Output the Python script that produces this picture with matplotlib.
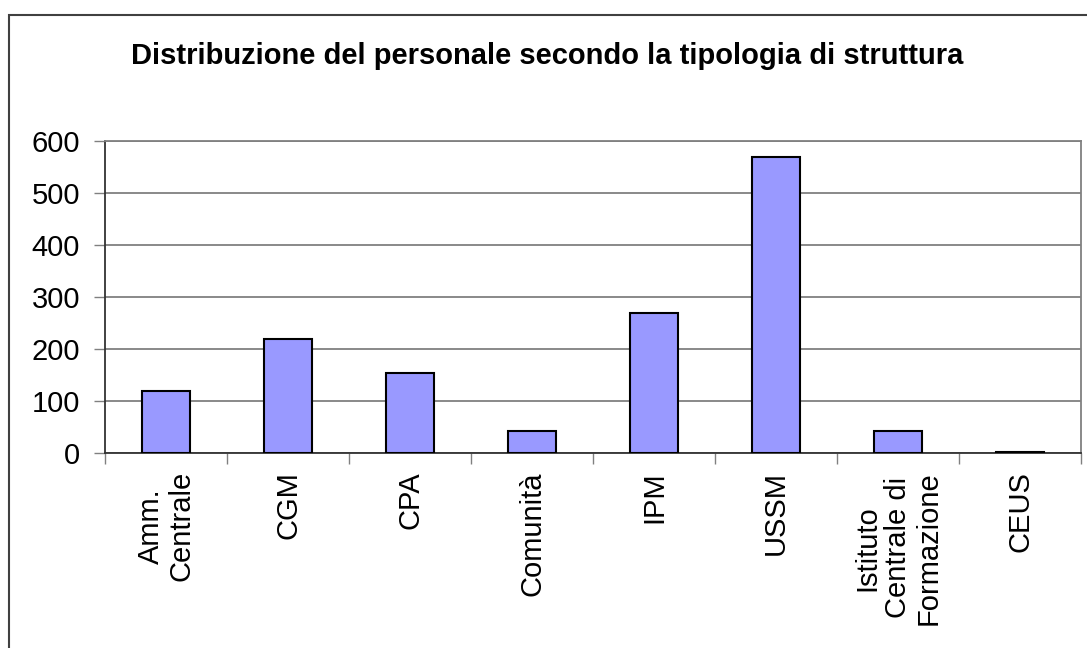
import numpy as np
import matplotlib.pyplot as plt
from matplotlib.patches import Rectangle

plt.rcParams['font.family'] = ['Liberation Sans', 'DejaVu Sans']

# data
categorie = ['Amm.\nCentrale', 'CGM', 'CPA', 'Comunità', 'IPM', 'USSM',
             'Istituto\nCentrale di\nFormazione', 'CEUS']
personale = [119, 219, 153, 42, 269, 569, 42, 2]
y_ticks = [0, 100, 200, 300, 400, 500, 600]

fig = plt.figure(figsize=(10.87, 6.48), dpi=100)
ax = fig.add_axes([105 / 1087, 1 - 453 / 648, 976 / 1087, 312 / 648])

x = np.arange(len(categorie)) + 0.5
ax.bar(x, personale, width=0.4, color='#9999ff', edgecolor='black',
       linewidth=1.5, zorder=3)

ax.set_xlim(0, len(categorie))
ax.set_ylim(0, 600)
ax.set_yticks(y_ticks)
ax.set_yticklabels([str(v) for v in y_ticks], fontsize=21)

# category labels at centres, tick marks at boundaries
ax.set_xticks(x)
ax.set_xticklabels(categorie, rotation=90, fontsize=21, va='top', ha='center',
                   multialignment='center', linespacing=1.1)
ax.tick_params(axis='x', which='major', length=0, pad=13)
ax.set_xticks(np.arange(len(categorie) + 1), minor=True)
ax.tick_params(axis='x', which='minor', length=8, color='#808080', width=1)
ax.tick_params(axis='y', length=8, color='#808080', width=1, pad=10)

ax.yaxis.grid(True, color='#808080', linewidth=1.3, zorder=0)
ax.set_axisbelow(True)
for s in ['top', 'right']:
    ax.spines[s].set_color('#808080')
    ax.spines[s].set_linewidth(1.3)
for s in ['left', 'bottom']:
    ax.spines[s].set_color('#333333')
    ax.spines[s].set_linewidth(1.3)

fig.text(0.503, 1 - 56 / 648, 'Distribuzione del personale secondo la tipologia di struttura',
         ha='center', va='center', fontsize=21, fontweight='bold')

# outer chart border
fig.patches.append(Rectangle((9 / 1087, -0.01), 1.0, 1 - 15 / 648 + 0.01,
                             transform=fig.transFigure, fill=False,
                             edgecolor='#404040', linewidth=1.5))

fig.savefig('out.png', dpi=100)
